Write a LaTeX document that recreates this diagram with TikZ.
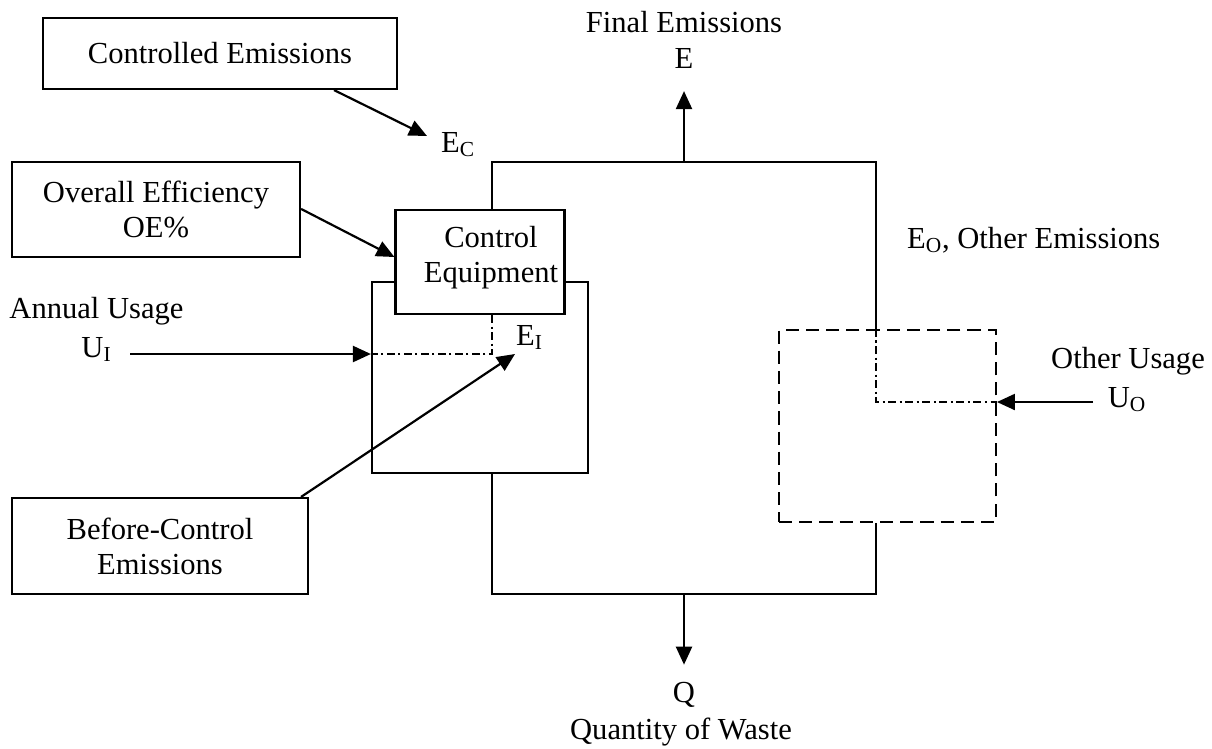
\documentclass[tikz,border=0pt]{standalone}
\usepackage{fontspec}
\setmainfont{Liberation Serif}
\usetikzlibrary{calc,arrows.meta}

\begin{document}
\begin{tikzpicture}[x=0.02cm,y=-0.02cm,line width=1.25pt,font=\fontsize{17.4pt}{20pt}\selectfont]
	\tikzstyle{box}=[draw,rectangle,inner sep=0pt,align=center];
	\tikzstyle{lbl}=[inner sep=0pt,anchor=base];
	\tikzstyle{arr}=[-{Triangle[length=0.36cm,width=0.32cm]}];
	\tikzstyle{dashdot}=[line width=1pt,dash pattern=on 4.5pt off 2pt on 1.2pt off 2pt];
	\tikzstyle{dashbox}=[box,line width=1.1pt,dash pattern=on 7.5pt off 4pt];
	\useasboundingbox (0,0) rectangle (1212,748);
	% boxes
	\node[box,minimum width=7.08cm,minimum height=1.42cm] (ce)   at (220,53.5)  {Controlled Emissions};
	\node[box,minimum width=5.76cm,minimum height=1.9cm]  (oe)   at (156,209.5) {Overall Efficiency\\OE\%};
	\node[box,minimum width=5.92cm,minimum height=1.92cm] (bc)   at (160,546)   {Before-Control\\Emissions};
	\node[box,minimum width=4.32cm,minimum height=3.82cm] (proc) at (480,377.5) {};
	\node[box,fill=white,minimum width=3.38cm,minimum height=2.08cm] (ctrl) at (480,262) {};
	\node[inner sep=0pt,align=center] (ctrltxt) at (491,258) {Control\\Equipment};
	\node[dashbox,minimum width=4.34cm,minimum height=3.84cm] (oth) at (887.5,426) {};
	% labels
	\node[lbl] (fe) at (684,32)  {Final Emissions};
	\node[lbl] (e)  at (684,68)  {E};
	\node[lbl,anchor=base west] (ec) at (440,152) {E\textsubscript{C}};
	\node[lbl,anchor=base west] (eo) at (906,248) {E\textsubscript{O}, Other Emissions};
	\node[lbl] (au) at (96.5,318) {Annual Usage};
	\node[lbl] (ui) at (96.5,357) {U\textsubscript{I}};
	\node[lbl,anchor=base west] (ei) at (515,345) {E\textsubscript{I}};
	\node[lbl] (ou) at (1128,368) {Other Usage};
	\node[lbl] (uo) at (1127,407) {U\textsubscript{O}};
	\node[lbl] (q)  at (684,702) {Q};
	\node[lbl] (qw) at (681,739) {Quantity of Waste};
	\coordinate (uiline) at (130,354);
	\coordinate (uoline) at (1093,402);
	\coordinate (topR)   at (876,162);
	\coordinate (botR)   at (876,594);
	% flows
	\draw ($(ctrl.north)+(12,0)$) |- (topR) -- (topR |- oth.north);
	\draw ($(proc.south)+(12,0)$) |- (botR) -- (botR |- oth.south);
	\draw[dashdot] (topR |- oth.north) |- (uoline -| oth.east);
	\draw[dashdot] ($(ctrl.south)+(12,0)$) |- (uiline -| proc.west);
	\draw[arr] (topR -| e) -- ($(e.south)+(0,22)$);
	\draw[arr] (botR -| q) -- ($(q.north)+(0,-16)$);
	\draw[arr] (uiline) -- (uiline -| proc.west);
	\draw[arr] (uoline) -- (uoline -| oth.east);
	\draw[arr] ($(ce.south east)+(-64,0)$) -- ($(ec.base west)+(-13,-16)$);
	\draw[arr] ($(oe.north east)+(0,48)$) -- ($(ctrl.west)+(0,-5)$);
	\draw[arr] ($(bc.north east)+(-8,0)$) -- ($(ei.base west)+(0,9)$);
\end{tikzpicture}
\end{document}
